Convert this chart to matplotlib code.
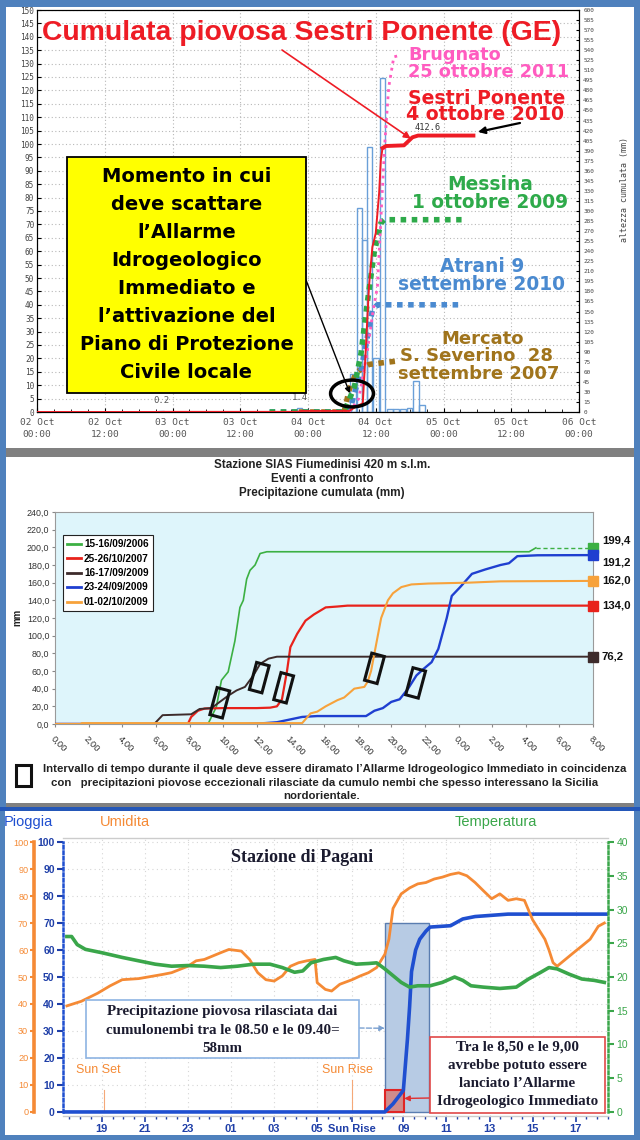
import numpy as np
import matplotlib
matplotlib.use('Agg')
import matplotlib.pyplot as plt
from matplotlib.patches import Rectangle, Ellipse
from matplotlib.lines import Line2D
import matplotlib.transforms as mtransforms
from matplotlib.ticker import MultipleLocator

plt.rcParams['font.family'] = ['DejaVu Sans']

# ======================= DATA =======================
# ---- Panel 1: Sestri Ponente (hours from 02 Oct 00:00) ----
p1_xticks = [0, 12, 24, 36, 48, 60, 72, 84, 96]
p1_xlabels = ['02 Oct\n00:00', '02 Oct\n12:00', '03 Oct\n00:00', '03 Oct\n12:00',
              '04 Oct\n00:00', '04 Oct\n12:00', '05 Oct\n00:00', '05 Oct\n12:00',
              '06 Oct\n00:00']
p1_left_ticks = list(range(0, 151, 5))
p1_right_ticks = list(range(0, 601, 15))

bar_hours = [22.0, 46.5, 56.0, 57.1, 58.0, 58.9, 60.0, 61.2, 62.5, 63.6, 64.8, 66.0, 67.1, 68.2]
bar_mm = [0.2, 1.4, 14, 76, 64, 99, 20, 124.6, 1.0, 1.0, 1.0, 1.5, 11.4, 2.5]
bar_text = ['0.2', '1.4', '', '', '', '', '', '', '', '', '', '', '', '']

sestri_h = [0, 21.5, 22.5, 46.0, 47.0, 55.3, 56.5, 57.7, 58.2, 58.8, 59.4, 60.0, 60.6,
            60.9, 61.2, 61.8, 65.0, 66.5, 67.5, 77.3]
sestri_mm = [0, 0, 0.2, 0.2, 1.6, 1.6, 8, 13, 88, 187, 246, 267, 327,
             376, 394, 397, 398, 410, 412.6, 412.6]

brugnato_h = [55.3, 57.0, 58.5, 59.5, 60.3, 60.9, 61.6, 62.3, 63.2, 64.1]
brugnato_mm = [0, 20, 90, 150, 187, 287, 401, 485, 530, 532]

messina_h = [41.2, 54.4, 56.2, 57.4, 58.5, 59.7, 60.9, 61.5, 75.2]
messina_mm = [0, 0, 37, 88, 163, 237, 282, 287, 287]

atrani_h = [41.2, 55.3, 57.4, 58.5, 59.4, 60.3, 74.8]
atrani_mm = [0, 0, 63, 112, 152, 160, 160]

mercato_h = [46.4, 54.4, 55.3, 56.5, 57.7, 58.8, 63.7]
mercato_mm = [0, 0, 33, 58, 66, 71, 76]

# ---- Panel 2: Fiumedinisi (hours from 0:00) ----
p2_xticks = list(range(0, 33, 2))
p2_xlabels = ['0,00', '2,00', '4,00', '6,00', '8,00', '10,00', '12,00', '14,00', '16,00',
              '18,00', '20,00', '22,00', '0,00', '2,00', '4,00', '6,00', '8,00']
p2_yticks = list(range(0, 241, 20))
p2_names = ['15-16/09/2006', '25-26/10/2007', '16-17/09/2009', '23-24/09/2009', '01-02/10/2009']

ev2006_h = [0, 9.1, 9.6, 9.9, 10.3, 10.7, 11.0, 11.2, 11.4, 11.6, 11.9, 12.2, 12.6, 28.2, 28.6, 32]
ev2006_mm = [0, 0, 19.5, 49.5, 59, 94, 132, 140, 164, 174, 180, 193, 195, 195, 199.4, 199.4]

ev2007_h = [0, 7.9, 8.1, 8.5, 8.9, 10.0, 12.0, 12.8, 13.2, 13.5, 13.8, 14.0, 14.4, 14.9,
            15.4, 16.1, 16.8, 17.4, 32]
ev2007_mm = [0, 0, 8, 15, 17.5, 18, 18, 18.5, 20, 28, 60, 87, 102, 117, 124, 132, 133, 134, 134]

ev2009a_h = [0, 5.9, 6.4, 8.1, 8.6, 9.3, 9.8, 10.3, 10.8, 11.3, 11.8, 12.2, 12.7, 13.2, 32]
ev2009a_mm = [0, 0, 10, 11, 17, 18, 25, 32, 38, 42, 55, 68, 74, 76.2, 76.2]

ev2009b_h = [0, 11.3, 12.5, 13.2, 13.7, 14.7, 15.6, 18.5, 19.0, 19.5, 20.0, 20.5, 21.0, 21.5,
             21.9, 22.4, 22.8, 23.3, 23.6, 24.1, 24.8, 25.6, 26.5, 27.0, 27.5, 28.7, 32]
ev2009b_mm = [0, 0, 1, 2, 4, 8, 9, 9, 15, 18, 25, 28, 40, 55, 62, 70, 85, 120, 145, 155,
              170, 175, 180, 182, 190, 191, 191.2]

ev2009c_h = [0, 1.5, 1.6, 14.7, 15.2, 15.6, 16.1, 16.8, 17.2, 17.8, 18.4, 18.6, 18.8, 19.2,
             19.4, 19.8, 20.1, 20.6, 21.2, 22.2, 24.6, 26.5, 32]
ev2009c_mm = [0, 0, 1, 1, 12, 14, 20, 27, 30, 40, 42, 48, 60, 100, 120, 140, 148, 155, 158,
              159, 160, 161.5, 162]

alarm_box_h = [9.8, 12.15, 13.6, 19.0, 21.45]
alarm_box_mm = [24, 52.5, 41, 63, 46.5]

# ---- Panel 3: Pagani (hours from day-1 00:00) ----
p3_xticks = [19, 21, 23, 25, 27, 29, 30.6, 33, 35, 37, 39, 41]
p3_xlabels = ['19', '21', '23', '01', '03', '05', 'Sun Rise', '09', '11', '13', '15', '17']
p3_left_ticks = list(range(0, 101, 10))
p3_right_ticks = list(range(0, 41, 5))

rain_h = [17.2, 32.14, 32.52, 32.81, 33.0, 33.19, 33.29, 33.38, 33.57, 33.76, 34.05, 34.24,
          35.19, 35.76, 36.33, 37.86, 42.43]
rain_mm = [0, 0, 3, 6, 8, 27, 39, 52, 60, 64, 67, 68.5, 69, 71.5, 72.4, 73.3, 73.3]

hum_h = [17.38, 18.05, 18.81, 19.38, 19.95, 20.71, 21.86, 22.24, 23.0, 23.38, 23.76, 24.52,
         24.90, 25.48, 25.86, 26.24, 26.62, 27.0, 27.38, 27.76, 28.14, 28.52, 28.90, 29.0,
         29.38, 29.67, 30.05, 30.62, 31.0, 31.38, 31.76, 32.14, 32.33, 32.43, 32.52, 32.90,
         33.29, 33.67, 34.05, 34.43, 34.81, 35.19, 35.57, 35.95, 36.33, 36.71, 37.10, 37.48,
         37.86, 38.24, 38.62, 39.0, 39.38, 39.57, 39.76, 39.95, 40.14, 40.52, 40.90, 41.29,
         41.67, 42.05, 42.33]
hum_v = [39.3, 41, 44, 46.7, 49, 49.4, 51, 51.6, 54, 56, 56.5, 59, 60.2, 59.6, 56.5, 51.6,
         49, 48.5, 50.4, 54, 55.3, 56, 56.5, 47.9, 45.4, 44.8, 47.3, 49, 50.4, 51.6, 53.5,
         58.4, 64, 70, 75.4, 80.8, 83, 84.5, 85, 86.3, 87, 88, 88.6, 87.5, 85, 82, 79, 80.8,
         78.4, 79, 78.4, 71.2, 66.4, 64, 60, 55.3, 54, 56.5, 59, 61.5, 64, 68.8, 70]

temp_h = [17.38, 17.6, 17.86, 18.24, 19.0, 19.95, 20.71, 21.48, 22.24, 23.0, 23.76, 24.52,
          25.29, 26.05, 26.81, 27.38, 27.95, 28.33, 28.71, 29.29, 29.86, 30.24, 30.81, 31.38,
          31.76, 32.14, 32.52, 32.90, 33.29, 33.67, 34.24, 34.81, 35.38, 35.76, 36.14, 36.71,
          37.48, 38.24, 38.81, 39.38, 39.76, 40.14, 40.71, 41.29, 41.86, 42.33]
temp_c = [26.0, 26.0, 24.8, 24.1, 23.6, 22.9, 22.4, 21.9, 21.6, 21.7, 21.6, 21.4, 21.6, 21.9,
          21.9, 21.4, 20.7, 20.9, 22.1, 22.6, 22.9, 22.4, 21.9, 22.0, 22.1, 21.2, 20.2, 19.2,
          18.5, 18.7, 18.7, 19.2, 20.0, 19.5, 18.7, 18.5, 18.3, 18.5, 19.7, 20.7, 21.4, 21.2,
          20.4, 19.7, 19.5, 19.2]

shade_h = [32.14, 34.18]
shade_top = 70
alarm_h = [32.14, 33.04]
alarm_top = 8
sunset_h = 19.1
sunrise_h = 30.6

# ======================= FIGURE =======================
W, H = 640, 1140
fig = plt.figure(figsize=(W / 100, H / 100), dpi=100)
fig.patch.set_facecolor('#4f81bd')


def axes_px(x0, y0, x1, y1):
    return fig.add_axes([x0 / W, 1 - y1 / H, (x1 - x0) / W, (y1 - y0) / H])


def box_px(x0, y0, x1, y1, fc, ec='none', lw=0, z=-5):
    fig.add_artist(Rectangle((x0 / W, 1 - y1 / H), (x1 - x0) / W, (y1 - y0) / H,
                             transform=fig.transFigure, facecolor=fc, edgecolor=ec,
                             linewidth=lw, zorder=z))


def text_px(x, y, s, **kw):
    kw.setdefault('zorder', 6)
    return fig.text(x / W, 1 - y / H, s, **kw)


# backgrounds / frames
box_px(6, 7, 634, 448, 'white')
box_px(6, 448, 634, 457, '#808080')
box_px(6, 457, 634, 803, 'white')
box_px(6, 803, 634, 807, '#808080')
box_px(0, 807, 640, 811, '#2457b8')
box_px(5, 811, 634, 1135, 'white')

# ======================= PANEL 1 =======================
C_RED = '#ee1c25'
MONO = 'DejaVu Sans Mono'
ax1 = axes_px(37, 10, 579, 412)
ax1.set_xlim(0, 96)
ax1.set_ylim(0, 150)
ax1.bar(bar_hours, bar_mm, width=1.0, facecolor='none', edgecolor='#6a9fd8',
        linewidth=1.0, zorder=2)
for h, v, t in zip(bar_hours, bar_mm, bar_text):
    if t:
        ax1.annotate(t, (h, v), xytext=(0, 6), textcoords='offset pixels', ha='center',
                     va='bottom', fontsize=6.5, family=MONO, color='#555555')
ax1.set_xticks(p1_xticks)
ax1.set_xticklabels(p1_xlabels, family=MONO, fontsize=6.8, color='#555555', linespacing=1.45)
ax1.xaxis.set_minor_locator(MultipleLocator(3))
ax1.set_yticks(p1_left_ticks)
ax1.set_yticklabels([str(v) for v in p1_left_ticks], family=MONO, fontsize=5.6, color='#444444')
ax1.tick_params(axis='x', which='major', direction='in', length=3, pad=4)
ax1.tick_params(axis='x', which='minor', direction='in', length=2)
ax1.tick_params(axis='y', direction='in', length=3, pad=2)
ax1.grid(True, which='major', color='#b8b8b8', linestyle=(0, (1, 2.2)), linewidth=0.8)
for sp in ax1.spines.values():
    sp.set_linewidth(0.8)

ax1r = ax1.twinx()
ax1r.set_ylim(0, 600)
ax1r.set_yticks(p1_right_ticks)
ax1r.set_yticklabels([str(v) for v in p1_right_ticks], family=MONO, fontsize=4.3, color='#444444')
ax1r.tick_params(axis='y', direction='in', length=2.5, pad=3)

dot = dict(linestyle=(0, (1, 1)), dash_capstyle='butt', solid_capstyle='butt')
ax1r.plot(mercato_h, mercato_mm, color='#a0741c', lw=4, zorder=3, **dot)
ax1r.plot(atrani_h, atrani_mm, color='#4a8ad0', lw=4, zorder=3, **dot)
ax1r.plot(messina_h, messina_mm, color='#2eaa4a', lw=4, zorder=3, **dot)
ax1r.plot(brugnato_h, brugnato_mm, color='#ff5cc0', lw=2.0, zorder=4,
          linestyle=(0, (1, 1.6)))
ax1r.plot(sestri_h, sestri_mm, color=C_RED, lw=1.4, zorder=5)
s_h = np.array(sestri_h)
s_m = np.array(sestri_mm)
plateau = s_m >= 390
ax1r.plot(s_h[plateau], s_m[plateau], color=C_RED, lw=2.8, zorder=5)

ax1r.add_patch(Ellipse((55.8, 27.6), 7.6, 40, fill=False, edgecolor='black', lw=2.5, zorder=7))
ax1r.annotate('412.6', xy=(66.8, 412.6), xytext=(0, 8), textcoords='offset pixels',
              fontsize=6.2, family=MONO, ha='left', va='center', color='#333333')
ax1r.annotate('', xy=(66.2, 408), xytext=(282, H - 50), textcoords='figure pixels',
              arrowprops=dict(arrowstyle='-|>', color=C_RED, lw=1.2, mutation_scale=10,
                              shrinkA=0, shrinkB=0), zorder=8)
ax1r.annotate('', xy=(78.1, 418), xytext=(520, H - 123), textcoords='figure pixels',
              arrowprops=dict(arrowstyle='-|>', color='black', lw=1.6, mutation_scale=10,
                              shrinkA=0, shrinkB=0), zorder=8)
ax1r.annotate('', xy=(55.4, 28), xytext=(306, H - 280), textcoords='figure pixels',
              arrowprops=dict(arrowstyle='-|>', color='black', lw=1.0, mutation_scale=8,
                              shrinkA=0, shrinkB=0), zorder=8)

text_px(625, 190, 'altezza cumulata (mm)', rotation=90, ha='center', va='center',
        fontsize=6, family=MONO, color='#444444')

text_px(302, 33, 'Cumulata piovosa Sestri Ponente (GE)', ha='center', va='center',
        fontsize=20.4, fontweight='bold', family='Liberation Sans', color=C_RED)

LBL = dict(fontweight='bold', family='DejaVu Sans', va='center')
text_px(408, 55, 'Brugnato', ha='left', fontsize=12.8, color='#ff5cc0', **LBL)
text_px(408, 72, '25 ottobre 2011', ha='left', fontsize=12.8, color='#ff5cc0', **LBL)
text_px(408, 98, 'Sestri Ponente', ha='left', fontsize=13.6, color=C_RED, **LBL)
text_px(406, 115, '4 ottobre 2010', ha='left', fontsize=13.6, color=C_RED, **LBL)
text_px(490, 185, 'Messina', ha='center', fontsize=13.4, color='#2eaa4a', **LBL)
text_px(412, 203, '1 ottobre 2009', ha='left', fontsize=13.4, color='#2eaa4a', **LBL)
text_px(482, 267, 'Atrani 9', ha='center', fontsize=13.4, color='#4a8ad0', **LBL)
text_px(398, 285, 'settembre 2010', ha='left', fontsize=13.4, color='#4a8ad0', **LBL)
text_px(483, 339, 'Mercato', ha='center', fontsize=13.0, color='#a0741c', **LBL)
text_px(400, 356, 'S. Severino  28', ha='left', fontsize=13.0, color='#a0741c', **LBL)
text_px(398, 374, 'settembre 2007', ha='left', fontsize=13.0, color='#a0741c', **LBL)

# yellow box
box_px(67, 157, 306, 393, '#ffff00', ec='black', lw=1.3, z=5)
yellow_lines = ['Momento in cui', 'deve scattare', 'l\u2019Allarme', 'Idrogeologico',
                'Immediato e', 'l\u2019attivazione del', 'Piano di Protezione', 'Civile locale']
for i, s in enumerate(yellow_lines):
    text_px(186.5, 177 + i * 28, s, ha='center', va='center', fontsize=14,
            fontweight='bold', family='DejaVu Sans', color='black')

# ======================= PANEL 2 =======================
TITLE2 = dict(ha='center', va='center', fontsize=8.4, fontweight='bold',
              family='Liberation Sans', color='#222222')
text_px(322, 465, 'Stazione SIAS Fiumedinisi 420 m s.l.m.', **TITLE2)
text_px(322, 479, 'Eventi a confronto', **TITLE2)
text_px(322, 493, 'Precipitazione cumulata (mm)', **TITLE2)

ax2 = axes_px(55, 512, 593, 724)
ax2.set_xlim(0, 32)
ax2.set_ylim(0, 240)
ax2.set_facecolor('#def5fb')
for sp in ax2.spines.values():
    sp.set_color('#9a9a9a')
    sp.set_linewidth(0.8)
ax2.set_yticks(p2_yticks)
ax2.set_yticklabels([f'{v:.1f}'.replace('.', ',') for v in p2_yticks], fontsize=6.4,
                    family='Liberation Sans', color='#333333')
ax2.set_xticks(p2_xticks)
ax2.set_xticklabels(p2_xlabels, rotation=-45, ha='left', va='top', rotation_mode='anchor',
                    fontsize=6.8, family='Liberation Sans', color='#333333')
ax2.tick_params(axis='both', length=2, color='#888888', pad=2)
ax2.tick_params(axis='x', pad=5)

p2_colors = ['#3cb043', '#e8221b', '#3d2b2b', '#1f3fd0', '#f7a23b']
p2_h = [ev2006_h, ev2007_h, ev2009a_h, ev2009b_h, ev2009c_h]
p2_mm = [ev2006_mm, ev2007_mm, ev2009a_mm, ev2009b_mm, ev2009c_mm]
p2_lw = [1.2, 1.6, 1.4, 1.7, 1.5]
p2_label_dy = [7, 0, 0, -7, 0]

g_h = np.array(ev2006_h)
g_m = np.array(ev2006_mm)
ax2.plot(g_h[g_h <= 28.6], g_m[g_h <= 28.6], color=p2_colors[0], lw=p2_lw[0], zorder=3)
ax2.plot(g_h[g_h >= 28.6], g_m[g_h >= 28.6], color=p2_colors[0], lw=1.0, zorder=3,
         linestyle=(0, (3, 2)))
for hh, mm, c, lw in list(zip(p2_h, p2_mm, p2_colors, p2_lw))[1:]:
    ax2.plot(hh, mm, color=c, lw=lw, zorder=3)
for hh, mm, c, dy in zip(p2_h, p2_mm, p2_colors, p2_label_dy):
    ax2.plot([hh[-1]], [mm[-1]], marker='s', ms=6.5, color=c, clip_on=False, zorder=5)
    ax2.annotate(f'{mm[-1]:.1f}'.replace('.', ','), xy=(hh[-1], mm[-1]), xytext=(9, dy),
                 textcoords='offset pixels', ha='left', va='center', fontsize=8.2,
                 fontweight='bold', family='Liberation Sans', color='#111111',
                 annotation_clip=False)

for h, m in zip(alarm_box_h, alarm_box_mm):
    tr = mtransforms.Affine2D().rotate_deg(-15) + \
        mtransforms.ScaledTranslation(h, m, ax2.transData)
    ax2.add_patch(Rectangle((-6.5, -14), 13, 28, transform=tr, fill=False,
                            edgecolor='#111111', lw=2.2, zorder=6))

handles = [Line2D([0], [0], color=c, lw=2) for c in p2_colors]
leg = ax2.legend(handles, p2_names, loc='upper left', bbox_to_anchor=(63 / W, 1 - 535 / H),
                 bbox_transform=fig.transFigure, prop={'size': 7.2, 'weight': 'bold',
                                                       'family': 'Liberation Sans'},
                 frameon=True, fancybox=False, edgecolor='#222222', framealpha=1,
                 handlelength=1.4, handletextpad=0.3, labelspacing=0.45, borderpad=0.4,
                 borderaxespad=0)
leg.get_frame().set_linewidth(0.8)

text_px(17, 617, 'mm', rotation=90, ha='center', va='center', fontsize=7,
        fontweight='bold', family='Liberation Sans', color='#222222')

box_px(16, 765, 31, 786, 'none', ec='#111111', lw=2.2, z=6)
NOTE = dict(fontsize=8.2, fontweight='bold', family='Liberation Sans', color='#222222',
            va='center')
text_px(335, 769, 'Intervallo di tempo durante il quale deve essere diramato l\u2019Allarme '
        'Idrogeologico Immediato in coincidenza', ha='center', **NOTE)
text_px(325, 783, 'con   precipitazioni piovose eccezionali rilasciate da cumulo nembi che '
        'spesso interessano la Sicilia', ha='center', **NOTE)
text_px(322, 796, 'nordorientale.', ha='center', **NOTE)

# ======================= PANEL 3 =======================
C_BLUE = '#1f4fd0'
C_ORANGE = '#f58a35'
C_GREEN = '#3aa64a'
C_TICK = '#1f3fa8'

text_px(4, 822, 'Pioggia', ha='left', va='center', fontsize=10.5, family='Liberation Sans',
        color=C_BLUE)
text_px(100, 822, 'Umidita', ha='left', va='center', fontsize=10.5, family='Liberation Sans',
        color=C_ORANGE)
text_px(455, 822, 'Temperatura', ha='left', va='center', fontsize=10.5,
        family='Liberation Sans', color=C_GREEN)

ax3 = axes_px(63, 838, 608, 1116)
ax3.set_xlim(17.2, 42.5)
ax3.set_ylim(-1.5, 101.5)
ax3.set_yticks(p3_left_ticks)
ax3.set_yticklabels([str(v) for v in p3_left_ticks], fontsize=7.5, fontweight='bold',
                    family='Liberation Sans', color=C_TICK)
ax3.set_xticks(p3_xticks)
ax3.set_xticklabels(p3_xlabels, fontsize=8, fontweight='bold', family='Liberation Sans',
                    color=C_TICK)
ax3.xaxis.set_minor_locator(MultipleLocator(0.5))
ax3.tick_params(axis='y', direction='out', length=4, width=1.5, colors=C_TICK, pad=2)
ax3.tick_params(axis='x', which='major', direction='out', length=4, width=1.2,
                colors=C_TICK, pad=2)
ax3.tick_params(axis='x', which='minor', direction='out', length=2.5, width=1.0,
                colors=C_TICK)
ax3.spines['left'].set_color(C_BLUE)
ax3.spines['left'].set_linestyle((0, (1, 1.2)))
ax3.spines['left'].set_linewidth(1.8)
ax3.spines['left'].set_bounds(0, 100)
ax3.spines['right'].set_visible(False)
for s in ['top', 'bottom']:
    ax3.spines[s].set_color('#cccccc')
    ax3.spines[s].set_linewidth(1)
ax3.grid(True, color='#d6d6d6', linestyle=(0, (1, 3)), linewidth=0.8)

ax3.add_patch(Rectangle((shade_h[0], 0), shade_h[1] - shade_h[0], shade_top,
                        facecolor='#b7cbe4', edgecolor='#5a7db0', lw=1.0, zorder=2))
ax3.add_patch(Rectangle((alarm_h[0], 0), alarm_h[1] - alarm_h[0], alarm_top,
                        facecolor='#cf8c8c', edgecolor='#e02525', lw=1.5, zorder=2.5))
ax3.plot(rain_h, rain_mm, color=C_BLUE, lw=2.6, zorder=4)

ax3.plot([sunset_h, sunset_h], [0, 8], color='#f5a878', lw=0.8, zorder=3)
ax3.plot([sunrise_h, sunrise_h], [0, 12], color='#f5a878', lw=0.8, zorder=3)
ax3.text(sunset_h - 0.25, 15.6, 'Sun Set', ha='center', va='center', fontsize=9,
         family='Liberation Sans', color=C_ORANGE)
ax3.text(sunrise_h - 0.2, 15.6, 'Sun Rise', ha='center', va='center', fontsize=9,
         family='Liberation Sans', color=C_ORANGE)

ax3h = ax3.twinx()
ax3h.set_ylim(-1.5, 101.5)
ax3h.yaxis.set_ticks_position('left')
ax3h.yaxis.set_label_position('left')
ax3h.spines['left'].set_position(('outward', 21))
for s in ['right', 'top', 'bottom']:
    ax3h.spines[s].set_visible(False)
ax3h.spines['left'].set_visible(True)
ax3h.spines['left'].set_color(C_ORANGE)
ax3h.spines['left'].set_linewidth(2.6)
ax3h.spines['left'].set_bounds(0, 100)
ax3h.set_yticks(p3_left_ticks)
ax3h.set_yticklabels([str(v) for v in p3_left_ticks], fontsize=6.6,
                     family='Liberation Sans', color=C_ORANGE)
ax3h.tick_params(axis='y', colors=C_ORANGE, length=3, width=1.5, pad=1, direction='out')
ax3h.plot(hum_h, hum_v, color=C_ORANGE, lw=2.0, zorder=3)

ax3t = ax3.twinx()
ax3t.set_ylim(-0.6, 40.6)
for s in ['left', 'top', 'bottom']:
    ax3t.spines[s].set_visible(False)
ax3t.spines['right'].set_color(C_GREEN)
ax3t.spines['right'].set_linestyle((0, (1, 1.2)))
ax3t.spines['right'].set_linewidth(1.8)
ax3t.spines['right'].set_bounds(0, 40)
ax3t.set_yticks(p3_right_ticks)
ax3t.set_yticklabels([str(v) for v in p3_right_ticks], fontsize=7.5,
                     family='Liberation Sans', color=C_GREEN)
ax3t.tick_params(axis='y', colors=C_GREEN, length=4, width=1.5, pad=2, direction='out')
ax3t.plot(temp_h, temp_c, color=C_GREEN, lw=2.6, zorder=3)

text_px(302, 857, 'Stazione di Pagani', ha='center', va='center', fontsize=13,
        fontweight='bold', family='Liberation Serif', color='#1b1b2f')

SERIF = dict(ha='center', va='center', fontsize=10.8, fontweight='bold',
             family='Liberation Serif', color='#1b1b2f')
box_px(86, 1000, 359, 1058, 'white', ec='#8eb4e3', lw=1.2, z=5)
for i, s in enumerate(['Precipitazione piovosa rilasciata dai',
                       'cumulonembi tra le 08.50 e le 09.40=', '58mm']):
    text_px(222.5, 1012 + i * 18, s, **SERIF)

box_px(430, 1037, 605, 1113, 'white', ec='#e04848', lw=1.2, z=5)
for i, s in enumerate(['Tra le 8,50 e le 9,00', 'avrebbe potuto essere',
                       'lanciato l\u2019Allarme', 'Idrogeologico Immediato']):
    text_px(517.5, 1047 + i * 18.3, s, **SERIF)

ax3t.annotate('', xy=(shade_h[0], 12.4), xytext=(359, H - 1028), textcoords='figure pixels',
              arrowprops=dict(arrowstyle='-|>', color='#7aa0d0', lw=1.0, linestyle='--',
                              mutation_scale=8, shrinkA=0, shrinkB=0), zorder=6)
ax3t.annotate('', xy=(alarm_h[1], 2.0), xytext=(430, H - 1098), textcoords='figure pixels',
              arrowprops=dict(arrowstyle='-|>', color='#e03030', lw=1.0,
                              mutation_scale=8, shrinkA=0, shrinkB=0), zorder=6)

fig.savefig('out.png', dpi=100, facecolor=fig.get_facecolor())
